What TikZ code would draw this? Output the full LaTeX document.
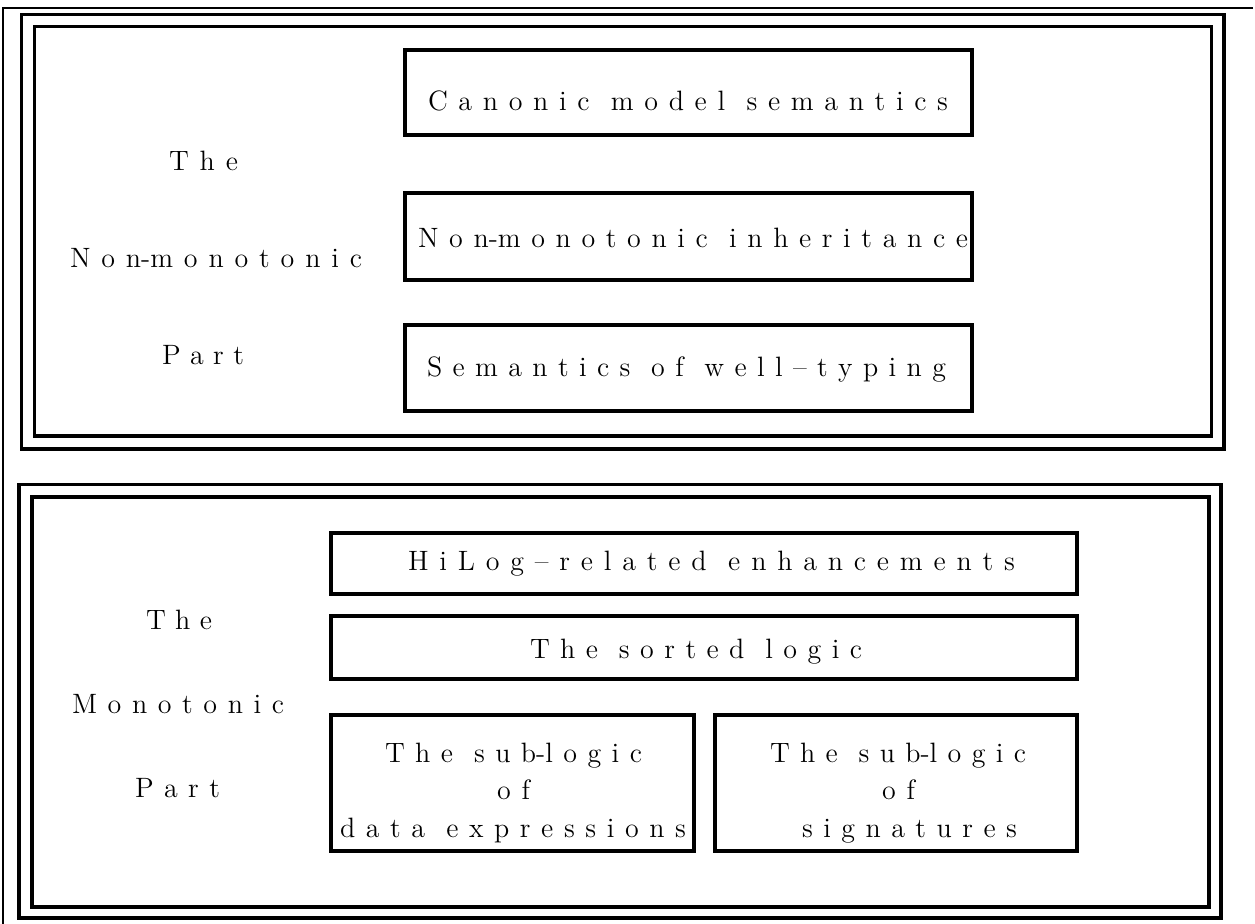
\documentclass[tikz,border=0pt]{standalone}
\usepackage{tikz}

\newlength\unitpx
\setlength\unitpx{0.5pt}

% spread the letters of #2 over a box #1 px wide
\makeatletter
\newif\ifsp@glue
\def\sp@tie{~}
\def\sp@hyph{-}
\newcommand\spreadto[2]{\makebox[#1\unitpx][s]{\sp@gluefalse
  \@tfor\sp@x:=#2\do{%
    \ifx\sp@x\sp@tie \hskip 0pt plus 2fil\relax\sp@gluefalse
    \else\ifx\sp@x\sp@hyph -\sp@gluefalse
    \else\ifsp@glue\hskip 0pt plus 1fil\relax\fi\sp@x\sp@gluetrue
    \fi\fi}}}
\makeatother

\tikzset{
  frame/.style={line width=1.9pt},
  block/.style={line width=1.6pt},
  spaced/.style={font=\fontsize{14}{16}\selectfont, inner sep=0pt, anchor=base},
}

\begin{document}
\begin{tikzpicture}[x=0.5pt, y=-0.5pt]
\useasboundingbox (0,0) rectangle (1255,924);
% Coordinates
\coordinate (nw) at (3,8);
\coordinate (ne) at (1253,8);
\coordinate (sw) at (3,924);
% Page rule
\draw[line width=1.3pt] (ne) -- (nw) -- (sw);
% Frames of the two parts
\draw[frame] (21.5,14.5) rectangle (1224,449);
\draw[frame] (34.5,26.5) rectangle (1211.5,436);
\draw[frame] (19.3,484.5) rectangle (1221,918.3);
\draw[frame] (31.7,496.7) rectangle (1209.3,906.7);
% Non-monotonic part
\draw[block] (405,50) rectangle (972,135);
\draw[block] (405,193) rectangle (972,280);
\draw[block] (405,325) rectangle (972,411);
\node[spaced] (canonic) at (688,111) {\spreadto{520}{Canonic~model~semantics}};
\node[spaced] (inherit) at (693,248) {\spreadto{550}{Non-monotonic~inheritance}};
\node[spaced] (welltyp) at (686.5,377) {\spreadto{519}{Semantics~of~well\textendash typing}};
\node[spaced] (nmthe)  at (203.5,171) {\spreadto{69}{The}};
\node[spaced] (nmname) at (216,268)   {\spreadto{292}{Non-monotonic}};
\node[spaced] (nmpart) at (203,365)   {\spreadto{82}{Part}};
% Monotonic part
\draw[block] (331,533) rectangle (1077,594);
\draw[block] (331,616) rectangle (1077,679);
\draw[block] (331,715) rectangle (694,851);
\draw[block] (715,715) rectangle (1077,851);
\node[spaced] (hilog)  at (711.5,571) {\spreadto{607}{HiLog\textendash related~enhancements}};
\node[spaced] (sorted) at (696,659)   {\spreadto{332}{The~sorted~logic}};
\node[spaced] (datasub) at (513.5,763) {\spreadto{257}{The~sub-logic}};
\node[spaced] (dataof)  at (513.5,800) {\spreadto{33}{of}};
\node[spaced] (dataexp) at (513,838)   {\spreadto{346}{data~expressions}};
\node[spaced] (sigsub) at (898,763)   {\spreadto{256}{The~sub-logic}};
\node[spaced] (sigof)  at (898.5,800) {\spreadto{33}{of}};
\node[spaced] (sigexp) at (909.5,838) {\spreadto{215}{signatures}};
\node[spaced] (mthe)  at (179,630)   {\spreadto{66}{The}};
\node[spaced] (mname) at (178,714)   {\spreadto{212}{Monotonic}};
\node[spaced] (mpart) at (177.5,798) {\spreadto{85}{Part}};
\end{tikzpicture}
\end{document}
